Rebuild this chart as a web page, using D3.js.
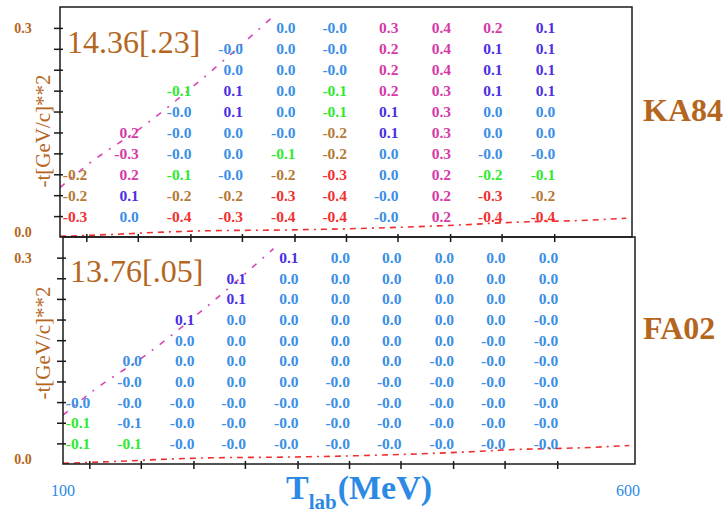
<!DOCTYPE html>
<html>
<head>
<meta charset="utf-8">
<script src="https://cdn.jsdelivr.net/npm/d3@7"></script>
<style>
  html, body { margin: 0; padding: 0; background: #fff; }
  svg { display: block; font-family: "Liberation Serif", "Times New Roman", serif; }
</style>
</head>
<body>
<svg id="chart" width="728" height="513"></svg>
<script>
// Beam kinetic energies (MeV) of the table columns
const energies = [123, 168, 214, 259, 305, 350, 395, 441, 486, 532];
// Momentum transfer -t (GeV/c)^2 of the table rows, top row first
const momentumRows = [0.30, 0.27, 0.24, 0.21, 0.18, 0.15, 0.12, 0.09, 0.06, 0.03];

// Data set names and their fitted chi-square [error]
const setNames = ["KA84", "FA02"];
const setScores = ["14.36[.23]", "13.76[.05]"];

// Deviations per cell (rows follow momentumRows, columns follow energies)
const deviationsKA84 = [
  [null, null, null, null, 0.02, -0.02, 0.3, 0.4, 0.2, 0.1],
  [null, null, null, -0.02, 0.02, -0.02, 0.2, 0.4, 0.1, 0.1],
  [null, null, null, 0.02, 0.02, -0.02, 0.2, 0.4, 0.1, 0.1],
  [null, null, -0.1, 0.1, 0.02, -0.1, 0.2, 0.3, 0.1, 0.1],
  [null, null, -0.02, 0.1, 0.02, -0.1, 0.1, 0.3, 0.02, 0.02],
  [null, 0.2, -0.02, 0.02, -0.02, -0.2, 0.1, 0.3, 0.02, 0.02],
  [null, -0.3, -0.02, 0.02, -0.1, -0.2, 0.02, 0.3, -0.02, -0.02],
  [-0.2, 0.2, -0.1, -0.02, -0.2, -0.3, 0.02, 0.2, -0.16, -0.1],
  [-0.2, 0.1, -0.2, -0.2, -0.3, -0.4, -0.02, 0.2, -0.3, -0.2],
  [-0.3, 0.02, -0.4, -0.3, -0.4, -0.4, -0.02, 0.2, -0.4, -0.4]
];
const deviationsFA02 = [
  [null, null, null, null, 0.1, 0.02, 0.02, 0.02, 0.02, 0.02],
  [null, null, null, 0.1, 0.02, 0.02, 0.02, 0.02, 0.02, 0.02],
  [null, null, null, 0.1, 0.02, 0.02, 0.02, 0.02, 0.02, 0.02],
  [null, null, 0.1, 0.02, 0.02, 0.02, 0.02, 0.02, 0.02, -0.02],
  [null, null, 0.02, 0.02, 0.02, 0.02, 0.02, 0.02, -0.02, -0.02],
  [null, 0.02, 0.02, 0.02, 0.02, 0.02, 0.02, -0.02, -0.02, -0.02],
  [null, -0.02, 0.02, 0.02, 0.02, -0.02, -0.02, -0.02, -0.02, -0.02],
  [-0.02, -0.02, -0.02, -0.02, -0.02, -0.02, -0.02, -0.02, -0.02, -0.02],
  [-0.1, -0.06, -0.02, -0.02, -0.02, -0.02, -0.02, -0.02, -0.02, -0.02],
  [-0.1, -0.1, -0.02, -0.02, -0.02, -0.02, -0.02, -0.02, -0.02, -0.02]
];

// Kinematic boundaries: upper (-t max) and lower (-t min) limits vs energy
const upperLimitT = [100, 126, 172, 220, 284];
const upperLimitMomentum = [0.071, 0.106, 0.158, 0.221, 0.313];
const lowerLimitT = [100, 150, 190, 230, 292, 379, 446, 495, 560, 595];
const lowerLimitMomentum = [0.001, 0.004, 0.007, 0.009, 0.010, 0.013, 0.017, 0.021, 0.024, 0.027];

// Axis end labels
const energyDomain = [100, 600];
const momentumDomain = [0, 0.33];
const energyTickLabels = ["100", "600"];
const momentumTickLabels = ["0.3", "0.0"];

const BROWN = "#b5661e";
const AXIS_BLUE = "#2b8ae4";

function cellColour(v, flagged) {
  if (flagged) return "#d63aa8";
  if (v >= 0.15) return "#d63aa8";
  if (v >= 0.05) return "#4a2fe3";
  if (v > -0.07) return "#3c8fe6";
  if (v > -0.175) return "#2fea2f";
  if (v > -0.25) return "#b47a36";
  return "#f2302f";
}
function fmt(v) {
  return (v < 0 ? "-" : "") + Math.abs(v).toFixed(1);
}

const svg = d3.select("#chart");
svg.append("rect").attr("width", 728).attr("height", 513).attr("fill", "#fff");

const panels = [
  { name: setNames[0], score: setScores[0], data: deviationsKA84,
    left: 60, right: 632, top: 7, bottom: 237, nameY: 110, titleY: 131,
    flagged: [[6, 1]] },
  { name: setNames[1], score: setScores[1], data: deviationsFA02,
    left: 63, right: 635, top: 237, bottom: 464, nameY: 328, titleY: 343,
    flagged: [] }
];

panels.forEach((p, pi) => {
  const x = d3.scaleLinear().domain(energyDomain).range([p.left, p.right]);
  const y = d3.scaleLinear().domain(momentumDomain).range([p.bottom, p.top]);
  const g = svg.append("g");

  const clipId = "clip" + pi;
  svg.append("clipPath").attr("id", clipId)
    .append("rect").attr("x", p.left).attr("y", p.top)
    .attr("width", p.right - p.left).attr("height", p.bottom - p.top);

  // kinematic limit curves
  const line = d3.line().x(d => x(d[0])).y(d => y(d[1])).curve(d3.curveMonotoneX);
  g.append("path")
    .attr("clip-path", `url(#${clipId})`)
    .attr("d", line(upperLimitT.map((t, i) => [t, upperLimitMomentum[i]])))
    .attr("fill", "none").attr("stroke", "#d946b4").attr("stroke-width", 1.6)
    .attr("stroke-dasharray", "6,8,2,8");
  g.append("path")
    .attr("d", line(lowerLimitT.map((t, i) => [t, lowerLimitMomentum[i]])))
    .attr("fill", "none").attr("stroke", "#f03030").attr("stroke-width", 1.6)
    .attr("stroke-dasharray", "6,5,6,5,2,5");

  // frame
  g.append("rect")
    .attr("x", p.left).attr("y", p.top)
    .attr("width", p.right - p.left).attr("height", p.bottom - p.top)
    .attr("fill", "none").attr("stroke", "#1a1a1a").attr("stroke-width", 1.5);

  // y ticks crossing the left edge
  const yAxis = d3.axisLeft(y).tickValues(momentumRows).tickSize(9).tickSizeOuter(0).tickFormat("");
  const ya = g.append("g").attr("transform", `translate(${p.left + 3},0)`).call(yAxis);
  ya.select(".domain").remove();
  ya.selectAll(".tick line").attr("stroke", "#1a1a1a").attr("stroke-width", 1.5);

  // x ticks on the bottom edge
  const xAxis = d3.axisBottom(x).tickValues(energies).tickSize(8).tickSizeOuter(0).tickFormat("");
  const xa = g.append("g").attr("transform", `translate(0,${p.bottom - 3})`).call(xAxis);
  xa.select(".domain").remove();
  xa.selectAll(".tick line").attr("stroke", "#1a1a1a").attr("stroke-width", 1.5);

  // table of deviations
  const cells = [];
  p.data.forEach((row, ri) => row.forEach((v, ci) => {
    if (v === null) return;
    const flagged = p.flagged.some(f => f[0] === ri && f[1] === ci);
    cells.push({ v, t: momentumRows[ri], e: energies[ci], flagged });
  }));
  g.selectAll("text.cell").data(cells).join("text")
    .attr("class", "cell")
    .attr("x", d => x(d.e) + 1)
    .attr("y", d => y(d.t))
    .attr("dy", "0.36em")
    .attr("text-anchor", "end")
    .attr("font-size", 15.5)
    .attr("font-weight", "bold")
    .attr("fill", d => cellColour(d.v, d.flagged))
    .text(d => fmt(d.v));

  // chi-square label
  g.append("text").attr("x", p.left + 7).attr("y", y(0.27) + 4)
    .attr("font-size", 32).attr("fill", BROWN).text(p.score);

  // data set name
  g.append("text").attr("x", 643).attr("y", p.nameY + 11)
    .attr("font-size", 32).attr("font-weight", "bold").attr("fill", BROWN).text(p.name);

  // y end labels
  g.append("text").attr("x", 23).attr("y", y(0.3)).attr("dy", "0.36em")
    .attr("text-anchor", "middle").attr("font-size", 14).attr("font-weight", "bold")
    .attr("fill", BROWN).text(momentumTickLabels[0]);
  g.append("text").attr("x", 23).attr("y", y(0) - 5).attr("dy", "0.36em")
    .attr("text-anchor", "middle").attr("font-size", 14).attr("font-weight", "bold")
    .attr("fill", BROWN).text(momentumTickLabels[1]);

  // y title
  g.append("text")
    .attr("transform", `translate(50,${p.titleY}) rotate(-90)`)
    .attr("text-anchor", "middle").attr("font-size", 21)
    .attr("fill", BROWN).text("-t[GeV/c]**2");

  if (pi === 1) {
    g.append("text").attr("x", x(energyDomain[0])).attr("y", 490).attr("dy", "0.36em")
      .attr("text-anchor", "middle").attr("font-size", 16).attr("fill", AXIS_BLUE)
      .text(energyTickLabels[0]);
    g.append("text").attr("x", x(energyDomain[1]) - 7).attr("y", 490).attr("dy", "0.36em")
      .attr("text-anchor", "middle").attr("font-size", 16).attr("fill", AXIS_BLUE)
      .text(energyTickLabels[1]);
    const title = g.append("text").attr("x", 359).attr("y", 499)
      .attr("text-anchor", "middle").attr("font-size", 34).attr("font-weight", "bold")
      .attr("fill", AXIS_BLUE);
    title.append("tspan").text("T");
    title.append("tspan").attr("font-size", 21).attr("dy", 10).text("lab");
    title.append("tspan").attr("dy", -10).attr("dx", 1).text("(MeV)");
  }
});
</script>
</body>
</html>
